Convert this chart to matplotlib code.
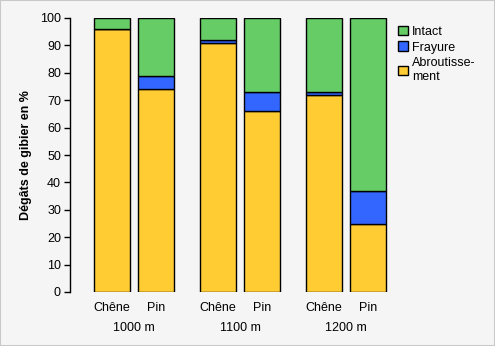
import matplotlib.pyplot as plt
import numpy as np

plt.rcParams['font.family'] = ['Liberation Sans', 'DejaVu Sans']

# damage shares per altitude and species (%)
altitudes = ["1000 m", "1100 m", "1200 m"]
species = ["Chêne", "Pin"]
abroutissement = [96, 74, 91, 66, 72, 25]
frayure = [0, 5, 1, 7, 1, 12]
intact = [4, 21, 8, 27, 27, 63]

YELLOW = "#FFCC33"
BLUE = "#3366FF"
GREEN = "#66CC66"
BG = "#F5F5F5"
FS = 9

fig = plt.figure(figsize=(4.95, 3.46), dpi=100, facecolor=BG)
ax = fig.add_axes([70 / 495, 1 - 292 / 346, 320 / 495, 274 / 346], facecolor=BG)

# two bars per altitude, wider gap between altitudes
x = []
for g in range(len(altitudes)):
    for s in range(len(species)):
        x.append(g * 2.41 + s)
x = np.array(x)

ab = np.array(abroutissement)
fr = np.array(frayure)
it = np.array(intact)
kw = dict(width=0.82, edgecolor="black", linewidth=1.0)
b1 = ax.bar(x, ab, color=YELLOW, **kw)
b2 = ax.bar(x, fr, bottom=ab, color=BLUE, **kw)
b3 = ax.bar(x, it, bottom=ab + fr, color=GREEN, **kw)

ax.set_xlim(-0.955, 6.32)
ax.set_ylim(0, 100)
ax.set_yticks(range(0, 101, 10))
ax.tick_params(axis="y", length=4.5, width=1, labelsize=FS, pad=2)
ax.set_xticks([])
for side in ["top", "right", "bottom"]:
    ax.spines[side].set_visible(False)
ax.spines["left"].set_linewidth(1)

ax.set_ylabel("Dégâts de gibier en %", fontsize=FS, fontweight="bold", labelpad=6)

for i, xi in enumerate(x):
    ax.text(xi, -3.8, species[i % 2], ha="center", va="top", fontsize=FS)
for g, name in enumerate(altitudes):
    ax.text(g * 2.41 + 0.5, -11.0, name, ha="center", va="top", fontsize=FS)

leg = ax.legend([b3, b2, b1], ["Intact", "Frayure", "Abroutisse-\nment"],
                loc="upper left", bbox_to_anchor=(1.0, 1.0), frameon=False,
                fontsize=FS, handlelength=0.8, handleheight=0.8,
                handletextpad=0.35, labelspacing=0.3, borderaxespad=0.2)

# thin grey frame round the whole figure
fig.patches.append(plt.Rectangle((0, 0), 1, 1, transform=fig.transFigure,
                                 fill=False, edgecolor="#C8C8C8", linewidth=1.5))

fig.savefig("out.png", dpi=100, facecolor=BG)
